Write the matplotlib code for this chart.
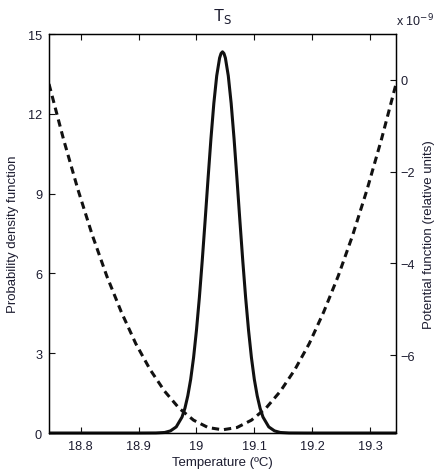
import numpy as np
import matplotlib
matplotlib.use("Agg")
import matplotlib.pyplot as plt

plt.rcParams['font.family'] = ['Liberation Sans', 'DejaVu Sans']

# probability density function
temp_pdf = [18.745, 18.90, 18.93, 18.945, 18.955, 18.965, 18.975, 18.98, 18.985,
            18.99, 18.995, 19.00, 19.005, 19.01, 19.015, 19.02, 19.025, 19.03,
            19.035, 19.04, 19.0425, 19.045, 19.0475, 19.05, 19.055, 19.06, 19.065,
            19.07, 19.075, 19.08, 19.085, 19.09, 19.095, 19.10, 19.105, 19.11,
            19.115, 19.125, 19.135, 19.145, 19.16, 19.19, 19.345]
pdf = [0.0, 0.0, 0.003, 0.02, 0.08, 0.23, 0.60, 0.93, 1.40,
       2.02, 2.84, 3.87, 5.09, 6.49, 8.00, 9.56, 11.06, 12.39,
       13.43, 14.10, 14.27, 14.33, 14.27, 14.10, 13.43, 12.39, 11.06,
       9.56, 8.00, 6.49, 5.09, 3.87, 2.84, 2.02, 1.40, 0.93,
       0.60, 0.23, 0.08, 0.02, 0.003, 0.0, 0.0]

# potential function (x 1e-9, relative units)
temp_pot = [18.745, 18.77, 18.795, 18.82, 18.845, 18.87, 18.895, 18.92, 18.945,
            18.97, 18.995, 19.02, 19.045, 19.07, 19.095, 19.12, 19.145, 19.17,
            19.195, 19.22, 19.245, 19.27, 19.295, 19.32, 19.345]
potential = [-0.09, -1.29, -2.39, -3.39, -4.28, -5.06, -5.75, -6.32, -6.79,
             -7.16, -7.42, -7.58, -7.63, -7.58, -7.42, -7.16, -6.79, -6.32,
             -5.75, -5.06, -4.28, -3.39, -2.39, -1.29, -0.09]

x_ticks = [18.8, 18.9, 19.0, 19.1, 19.2, 19.3]
x_labels = ["18.8", "18.9", "19", "19.1", "19.2", "19.3"]
left_ticks = [0, 3, 6, 9, 12, 15]
right_ticks = [-6, -4, -2, 0]

txt = '#1c1c30'

fig = plt.figure(figsize=(4.45, 4.77), dpi=100)
fig.subplots_adjust(left=0.1101, right=0.8899, bottom=0.0901, top=0.9266)
ax = fig.add_subplot(111)

ax.plot(temp_pdf, pdf, color='#111111', lw=2.2, clip_on=False, zorder=5,
        solid_capstyle='butt', solid_joinstyle='round')
ax.set_xlim(18.745, 19.345)
ax.set_ylim(0, 15)
ax.set_xticks(x_ticks)
ax.set_xticklabels(x_labels)
ax.set_yticks(left_ticks)
ax.tick_params(direction='in', length=4, width=0.8, top=True, right=True,
               labelsize=9.2, colors='#111111', labelcolor=txt, pad=5)
ax.set_xlabel("Temperature (ºC)", fontsize=9.5, color=txt, labelpad=3)
ax.set_ylabel("Probability density function", fontsize=9.5, color=txt, labelpad=6)
ax.set_title("T$_\\mathrm{S}$", fontsize=12, color=txt, pad=10)
for s in ax.spines.values():
    s.set_linewidth(0.9)

ax2 = ax.twinx()
ax2.plot(temp_pot, potential, color='#111111', lw=2.2, dashes=(2.4, 1.6))
ax2.set_ylim(-7.70, 1.0)
ax2.set_yticks(right_ticks)
ax2.set_yticklabels(["\u22126", "\u22124", "\u22122", "0"])
ax2.tick_params(direction='in', length=4, width=0.8, labelsize=9.2,
                colors='#111111', labelcolor=txt, pad=3)
ax2.set_ylabel("Potential function (relative units)", fontsize=9.5, color=txt,
               labelpad=6)
for s in ax2.spines.values():
    s.set_linewidth(0.9)
ax2.text(1.0, 1.015, "x 10$^{-9}$", transform=ax2.transAxes, fontsize=9,
         color=txt, ha='left', va='bottom')

fig.savefig("out.png", dpi=100)
